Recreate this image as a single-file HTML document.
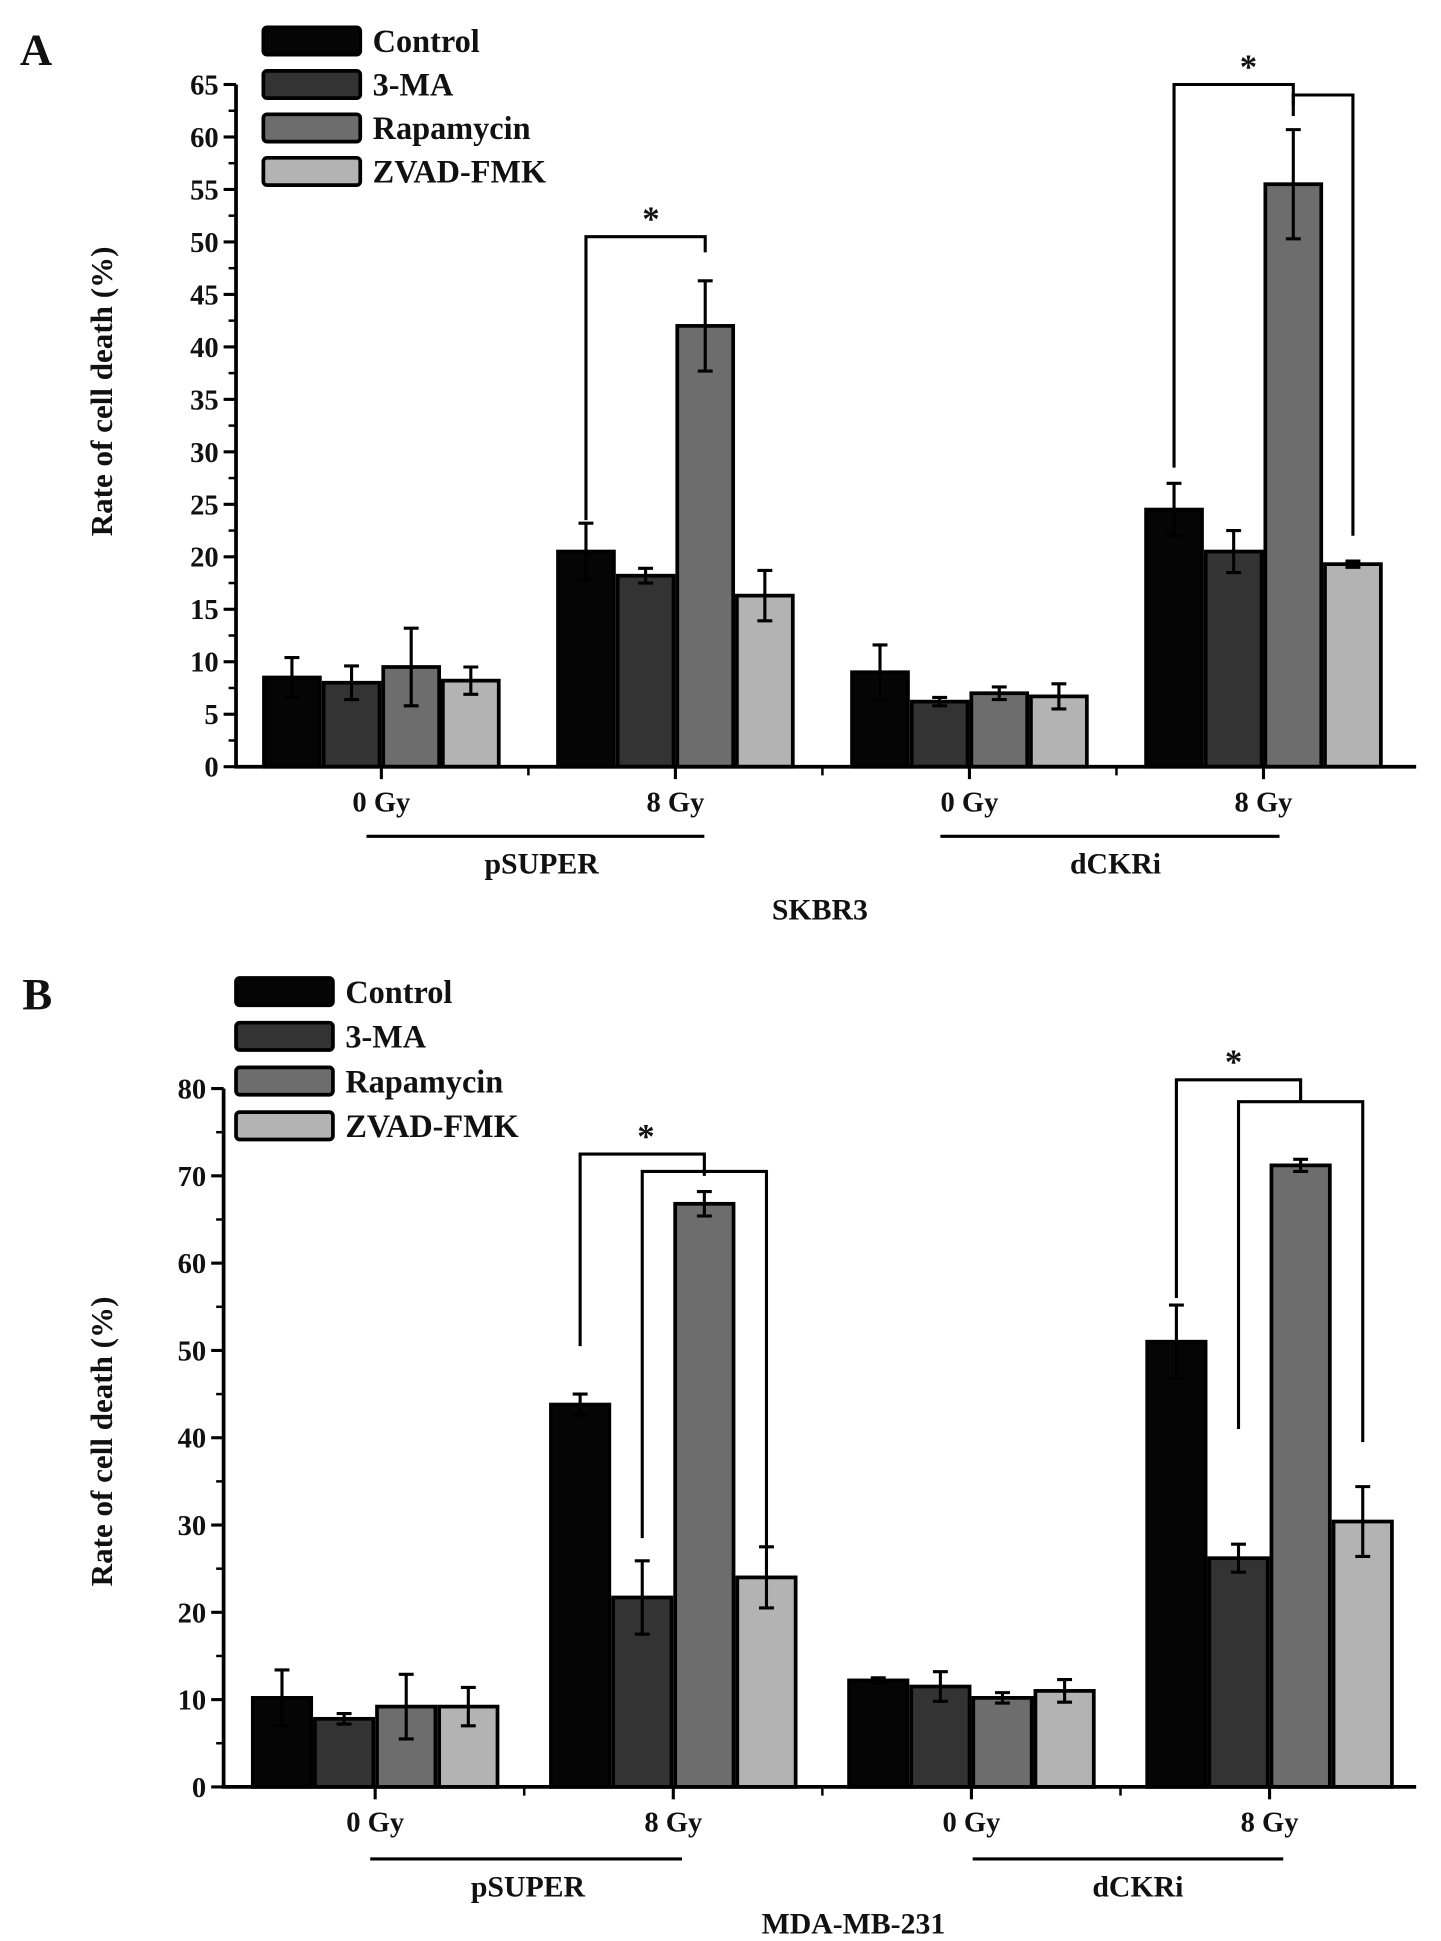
<!DOCTYPE html>
<html><head><meta charset="utf-8"><style>
html,body{margin:0;padding:0;background:#fff}
svg{display:block}
text{font-family:"Liberation Serif",serif;font-weight:bold;fill:#111}
</style></head><body>
<svg id="fig" width="1441" height="1941" viewBox="0 0 1160 1562" preserveAspectRatio="none" xmlns="http://www.w3.org/2000/svg"></svg>
<script>
const seriesNames=["Control","3-MA","Rapamycin","ZVAD-FMK"];
const colors=["#050505","#333333","#6d6d6d","#b3b3b3"];
const groupLabels=["0 Gy","8 Gy","0 Gy","8 Gy"];
// Panel A (SKBR3)
const aControl=[8.5,20.5,9.0,24.5];
const aMA=[8.0,18.2,6.2,20.5];
const aRapa=[9.5,42.0,7.0,55.5];
const aZvad=[8.2,16.3,6.7,19.3];
const aControlErr=[1.9,2.7,2.6,2.5];
const aMAErr=[1.6,0.7,0.4,2.0];
const aRapaErr=[3.7,4.3,0.6,5.2];
const aZvadErr=[1.3,2.4,1.2,0.3];
const aTicks=[0,5,10,15,20,25,30,35,40,45,50,55,60,65];
// Panel B (MDA-MB-231)
const bControl=[10.2,43.8,12.2,51.0];
const bMA=[7.8,21.7,11.5,26.2];
const bRapa=[9.2,66.8,10.2,71.2];
const bZvad=[9.2,24.0,11.0,30.4];
const bControlErr=[3.2,1.2,0.3,4.2];
const bMAErr=[0.6,4.2,1.7,1.6];
const bRapaErr=[3.7,1.4,0.6,0.7];
const bZvadErr=[2.2,3.5,1.3,4.0];
const bTicks=[0,10,20,30,40,50,60,70,80];

const svg=document.getElementById('fig');
const NS="http://www.w3.org/2000/svg";
function mk(tag,attrs,parent,txt){const e=document.createElementNS(NS,tag);for(const k in attrs)e.setAttribute(k,attrs[k]);if(txt!==undefined)e.textContent=txt;(parent||svg).appendChild(e);return e;}

function panel(cfg){
  const g=mk('g',{});
  
  
  const y=v=>cfg.y0-(v/cfg.max)*(cfg.y0-cfg.yTop);
  const gc=i=>cfg.c0+i*cfg.gap;
  const bx=(i,j)=>gc(i)-2*cfg.bw+j*cfg.bw;
  const t=mk('text',{x:cfg.letter[0],y:cfg.letter[1],'font-size':36},g,cfg.letterText);
  
  cfg.vals.forEach((arr,j)=>{arr.forEach((v,i)=>{
    const r=mk('rect',{x:bx(i,j)+1.5,y:y(v),width:cfg.bw-3,height:cfg.y0-y(v),fill:colors[j],stroke:'#000','stroke-width':3},g);
    
    
    const e=cfg.errs[j][i],cx=bx(i,j)+cfg.bw/2;
    const p=mk('path',{d:`M${cx},${y(v+e)}V${y(v-e)}M${cx-6},${y(v+e)}H${cx+6}M${cx-6},${y(v-e)}H${cx+6}`,stroke:'#000','stroke-width':2.5,fill:'none'},g);
    
  });});
  const ax=mk('path',{d:`M${cfg.ax},${cfg.yTop}V${cfg.y0}H${cfg.xEnd}`,stroke:'#000','stroke-width':3,fill:'none'},g);
  
  const step=cfg.ticks[1]-cfg.ticks[0];
  cfg.ticks.forEach((tv,k)=>{
    mk('line',{x1:cfg.ax-10,x2:cfg.ax,y1:y(tv),y2:y(tv),stroke:'#000','stroke-width':2.5},g);
    if(k<cfg.ticks.length-1)mk('line',{x1:cfg.ax-6,x2:cfg.ax,y1:y(tv+step/2),y2:y(tv+step/2),stroke:'#000','stroke-width':2},g);
    const l=mk('text',{x:cfg.ax-14,y:y(tv)+8,'font-size':23,'text-anchor':'end'},g,tv);
    
  });
  for(let i=0;i<4;i++){
    mk('line',{x1:gc(i),x2:gc(i),y1:cfg.y0,y2:cfg.y0+10,stroke:'#000','stroke-width':2.5},g);
    if(i<3)mk('line',{x1:gc(i)+cfg.gap/2,x2:gc(i)+cfg.gap/2,y1:cfg.y0,y2:cfg.y0+7,stroke:'#000','stroke-width':2},g);
    const l=mk('text',{x:gc(i),y:cfg.y0+36,'font-size':23,'text-anchor':'middle'},g,groupLabels[i]);
    
  }
  cfg.under.forEach(u=>{
    mk('line',{x1:u[0],x2:u[1],y1:u[2],y2:u[2],stroke:'#000','stroke-width':2.5},g);
    const l=mk('text',{x:u[4],y:u[5],'font-size':24,'text-anchor':'middle'},g,u[3]);
    
  });
  const cl=mk('text',{x:cfg.cell[0],y:cfg.cell[1],'font-size':24,'text-anchor':'middle'},g,cfg.cellText);
  
  const yt=mk('text',{x:0,y:0,'font-size':25,'text-anchor':'middle',transform:`translate(${cfg.yt[0]},${cfg.yt[1]}) rotate(-90)`},g,'Rate of cell death  (%)');
  
  seriesNames.forEach((n,j)=>{
    const ly=cfg.leg[1]+j*cfg.leg[2];
    const r=mk('rect',{x:cfg.leg[0],y:ly-11,width:78,height:22,rx:3,fill:colors[j],stroke:'#000','stroke-width':3},g);
    
    const l=mk('text',{x:cfg.leg[0]+88,y:ly+9,'font-size':26},g,n);
    
  });
  cfg.br.forEach(b=>{
    const x1=bx(b.g,b.a)+cfg.bw/2,x2=bx(b.g,b.b)+cfg.bw/2;
    const p=mk('path',{d:`M${x1},${y(b.s1)}V${y(b.top)}H${x2}V${y(b.s2)}`,stroke:'#000','stroke-width':2.5,fill:'none'},g);
    
    if(b.star!==undefined){const s=mk('text',{x:b.star,y:y(b.top)-5,'font-size':28,'text-anchor':'middle'},g,'*');
      }
  });
}
panel({name:'panel-a',letterText:'A',letter:[16,52],y0:617,yTop:68,max:65,ax:190,xEnd:1140,c0:307,gap:236.7,bw:48,
  vals:[aControl,aMA,aRapa,aZvad],errs:[aControlErr,aMAErr,aRapaErr,aZvadErr],ticks:aTicks,
  under:[[295,567,673,'pSUPER',436,703],[757,1030,673,'dCKRi',898,703]],cell:[660,740],cellText:'SKBR3',yt:[90,315],
  leg:[212,33,35],
  br:[{g:1,a:0,b:2,s1:23.5,top:50.5,s2:49,star:524},{g:3,a:0,b:2,s1:28.5,top:65,s2:63,star:1005},{g:3,a:2,b:3,s1:62,top:64,s2:22}]});
panel({name:'panel-b',letterText:'B',letter:[18,812],y0:1438,yTop:876,max:80,ax:180,xEnd:1140,c0:302,gap:240,bw:50,
  vals:[bControl,bMA,bRapa,bZvad],errs:[bControlErr,bMAErr,bRapaErr,bZvadErr],ticks:bTicks,
  under:[[298,549,1496,'pSUPER',425,1526],[783,1033,1496,'dCKRi',916,1526]],cell:[687,1556],cellText:'MDA-MB-231',yt:[90,1160],
  leg:[190,798,36],
  br:[{g:1,a:0,b:2,s1:50.5,top:72.5,s2:70,star:520},{g:1,a:1,b:3,s1:28.5,top:70.5,s2:27.5},{g:3,a:0,b:2,s1:56,top:81,s2:78.5,star:993},{g:3,a:1,b:3,s1:41,top:78.5,s2:39.5}]});
</script>
</body></html>
